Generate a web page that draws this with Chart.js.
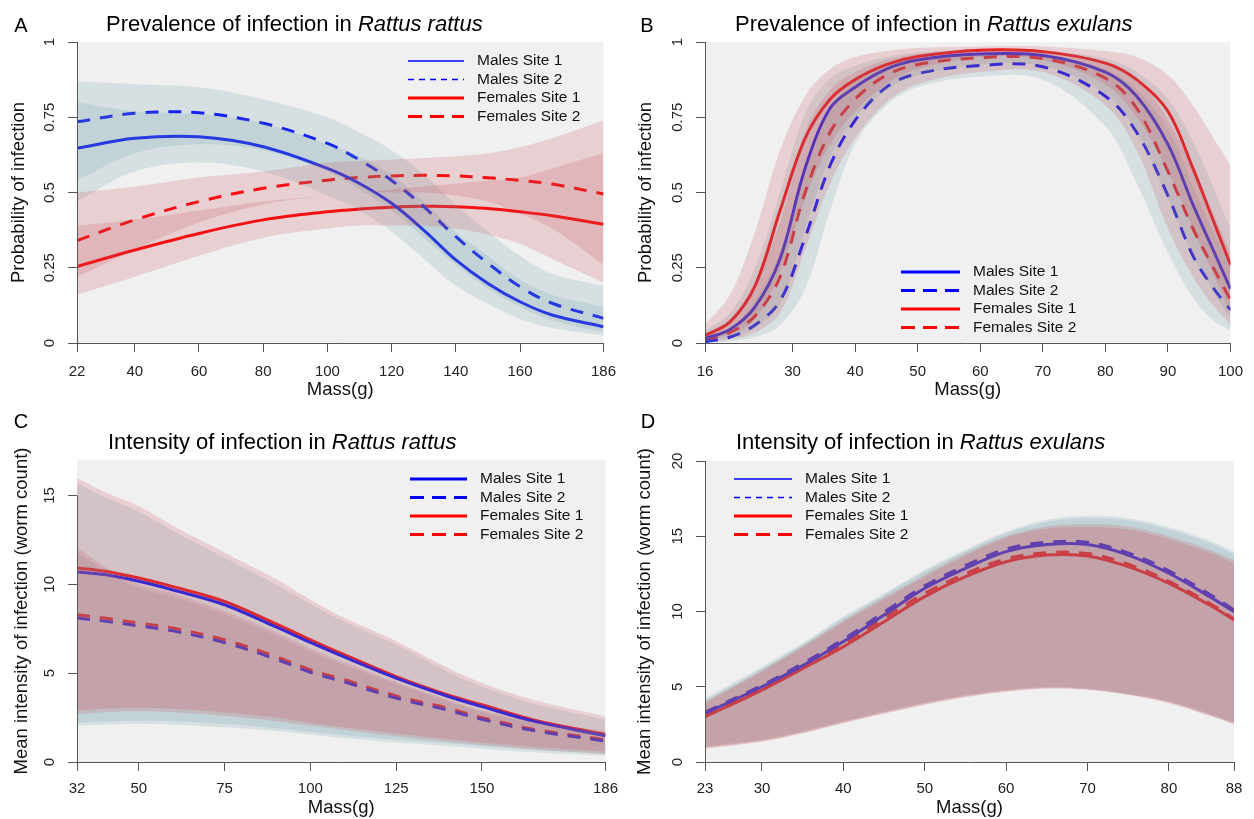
<!DOCTYPE html>
<html>
<head>
<meta charset="utf-8">
<script src="https://cdn.jsdelivr.net/npm/chart.js@4.4.0/dist/chart.umd.min.js"></script>
<style>
body { margin: 0; background: #fff; width: 1254px; height: 819px; position: relative; overflow: hidden; }
.panel { position: absolute; width: 627px; height: 410px; }
</style>
</head>
<body>
<div class="panel" style="left:0;top:0"><canvas id="chartA"></canvas></div>
<div class="panel" style="left:627px;top:0"><canvas id="chartB"></canvas></div>
<div class="panel" style="left:0;top:409px"><canvas id="chartC"></canvas></div>
<div class="panel" style="left:627px;top:409px"><canvas id="chartD"></canvas></div>
<script>
// ---- data ----
const seriesNames = ['Males Site 1', 'Males Site 2', 'Females Site 1', 'Females Site 2']

// A: prevalence, Rattus rattus
const massA = [22, 40, 60, 80, 100, 110, 120, 130, 140, 150, 160, 170, 186]
const xTicksA = [22, 40, 60, 80, 100, 120, 140, 160, 186]
const yTicksA = [0, 0.25, 0.5, 0.75, 1]
const mS1A = [0.647, 0.68, 0.685, 0.652, 0.58, 0.53, 0.464, 0.375, 0.276, 0.198, 0.137, 0.093, 0.054]
const mS1LoA = [0.47, 0.57, 0.60, 0.57, 0.49, 0.44, 0.37, 0.28, 0.19, 0.13, 0.08, 0.05, 0.025]
const mS1HiA = [0.80, 0.77, 0.76, 0.73, 0.66, 0.62, 0.56, 0.47, 0.37, 0.29, 0.21, 0.16, 0.12]
const mS2A = [0.735, 0.763, 0.765, 0.73, 0.663, 0.608, 0.54, 0.453, 0.353, 0.265, 0.187, 0.132, 0.082]
const mS2LoA = [0.54, 0.63, 0.66, 0.64, 0.57, 0.51, 0.44, 0.35, 0.26, 0.18, 0.12, 0.075, 0.035]
const mS2HiA = [0.87, 0.86, 0.85, 0.81, 0.75, 0.70, 0.64, 0.56, 0.46, 0.37, 0.29, 0.23, 0.19]
const fS1A = [0.254, 0.309, 0.364, 0.409, 0.436, 0.445, 0.451, 0.454, 0.453, 0.447, 0.436, 0.423, 0.395]
const fS1LoA = [0.16, 0.22, 0.29, 0.35, 0.38, 0.39, 0.39, 0.39, 0.38, 0.36, 0.33, 0.28, 0.20]
const fS1HiA = [0.39, 0.41, 0.44, 0.47, 0.49, 0.50, 0.51, 0.52, 0.53, 0.54, 0.55, 0.58, 0.63]
const fS2A = [0.34, 0.409, 0.47, 0.514, 0.541, 0.55, 0.555, 0.557, 0.555, 0.549, 0.54, 0.528, 0.495]
const fS2LoA = [0.22, 0.31, 0.40, 0.46, 0.49, 0.50, 0.50, 0.50, 0.49, 0.47, 0.43, 0.38, 0.26]
const fS2HiA = [0.50, 0.52, 0.55, 0.57, 0.60, 0.605, 0.61, 0.615, 0.62, 0.63, 0.65, 0.68, 0.74]

// B: prevalence, Rattus exulans
const massB = [16, 20, 24, 28, 32, 36, 40, 45, 50, 60, 70, 80, 85, 90, 94, 97, 100]
const xTicksB = [16, 30, 40, 50, 60, 70, 80, 90, 100]
const yTicksB = [0, 0.25, 0.5, 0.75, 1]
const mS1B = [0.015, 0.045, 0.12, 0.28, 0.58, 0.78, 0.85, 0.91, 0.94, 0.96, 0.955, 0.90, 0.82, 0.66, 0.46, 0.32, 0.18]
const mS1LoB = [0.005, 0.02, 0.05, 0.13, 0.38, 0.62, 0.75, 0.84, 0.89, 0.925, 0.92, 0.83, 0.70, 0.48, 0.29, 0.18, 0.08]
const mS1HiB = [0.04, 0.10, 0.25, 0.50, 0.76, 0.88, 0.92, 0.95, 0.965, 0.975, 0.972, 0.945, 0.90, 0.81, 0.67, 0.53, 0.38]
const mS2B = [0.005, 0.02, 0.06, 0.14, 0.35, 0.59, 0.74, 0.85, 0.895, 0.922, 0.918, 0.82, 0.70, 0.49, 0.29, 0.19, 0.11]
const mS2LoB = [0.001, 0.006, 0.02, 0.06, 0.18, 0.44, 0.66, 0.79, 0.85, 0.885, 0.875, 0.72, 0.53, 0.30, 0.15, 0.08, 0.04]
const mS2HiB = [0.015, 0.05, 0.14, 0.30, 0.57, 0.78, 0.87, 0.92, 0.945, 0.96, 0.955, 0.91, 0.84, 0.71, 0.52, 0.38, 0.26]
const fS1B = [0.025, 0.07, 0.19, 0.44, 0.68, 0.81, 0.875, 0.925, 0.952, 0.973, 0.968, 0.93, 0.875, 0.77, 0.58, 0.42, 0.26]
const fS1LoB = [0.01, 0.03, 0.08, 0.24, 0.48, 0.66, 0.77, 0.86, 0.91, 0.95, 0.94, 0.86, 0.75, 0.57, 0.38, 0.24, 0.10]
const fS1HiB = [0.06, 0.16, 0.37, 0.64, 0.82, 0.91, 0.95, 0.97, 0.98, 0.985, 0.985, 0.97, 0.95, 0.89, 0.79, 0.69, 0.59]
const fS2B = [0.01, 0.035, 0.09, 0.22, 0.50, 0.70, 0.81, 0.89, 0.925, 0.948, 0.945, 0.88, 0.78, 0.57, 0.38, 0.26, 0.143]
const fS2LoB = [0.003, 0.012, 0.035, 0.10, 0.31, 0.53, 0.68, 0.80, 0.86, 0.90, 0.90, 0.79, 0.64, 0.38, 0.22, 0.13, 0.06]
const fS2HiB = [0.03, 0.08, 0.20, 0.40, 0.70, 0.84, 0.90, 0.94, 0.96, 0.97, 0.968, 0.935, 0.88, 0.74, 0.58, 0.44, 0.30]

// C: intensity, Rattus rattus
const massC = [32, 40, 50, 60, 75, 90, 100, 110, 125, 140, 150, 165, 186]
const xTicksC = [32, 50, 75, 100, 125, 150, 186]
const yTicksC = [0, 5, 10, 15]
const mS1C = [10.7, 10.55, 10.17, 9.68, 8.85, 7.6, 6.73, 5.9, 4.72, 3.7, 3.12, 2.3, 1.48]
const mS1LoC = [2.2, 2.28, 2.32, 2.3, 2.15, 1.9, 1.7, 1.5, 1.25, 1.05, 0.9, 0.7, 0.45]
const mS1HiC = [15.7, 14.9, 14.1, 13.0, 11.5, 10.0, 8.9, 7.9, 6.6, 5.1, 4.25, 3.3, 2.4]
const mS2C = [8.1, 7.93, 7.66, 7.38, 6.72, 5.79, 5.05, 4.5, 3.6, 2.92, 2.4, 1.77, 1.18]
const mS2LoC = [2.05, 2.1, 2.15, 2.1, 1.95, 1.75, 1.55, 1.35, 1.1, 0.9, 0.75, 0.55, 0.35]
const mS2HiC = [11.8, 10.8, 9.8, 9.3, 8.3, 7.1, 6.2, 5.45, 4.4, 3.4, 2.8, 2.2, 1.65]
const fS1C = [10.92, 10.74, 10.36, 9.87, 9.04, 7.77, 6.88, 6.03, 4.81, 3.78, 3.22, 2.37, 1.55]
const fS1LoC = [2.9, 3.0, 3.05, 3.0, 2.8, 2.5, 2.2, 1.95, 1.6, 1.3, 1.1, 0.85, 0.6]
const fS1HiC = [16.0, 15.2, 14.4, 13.3, 11.8, 10.3, 9.14, 8.1, 6.8, 5.3, 4.45, 3.5, 2.56]
const fS2C = [8.29, 8.1, 7.82, 7.54, 6.88, 5.94, 5.19, 4.63, 3.72, 3.03, 2.5, 1.85, 1.25]
const fS2LoC = [2.7, 2.8, 2.85, 2.8, 2.6, 2.3, 2.05, 1.8, 1.45, 1.15, 0.95, 0.7, 0.45]
const fS2HiC = [12.1, 11.0, 10.0, 9.5, 8.5, 7.3, 6.4, 5.6, 4.5, 3.5, 2.9, 2.3, 1.75]

// D: intensity, Rattus exulans
const massD = [23, 30, 35, 40, 45, 50, 55, 60, 65, 70, 75, 80, 85, 88]
const xTicksD = [23, 30, 40, 50, 60, 70, 80, 88]
const yTicksD = [0, 5, 10, 15, 20]
const mS1D = [3.23, 5.0, 6.4, 8.0, 9.77, 11.54, 12.87, 13.98, 14.45, 14.45, 13.75, 12.54, 10.99, 9.99]
const mS1LoD = [1.0, 1.45, 2.0, 2.67, 3.3, 3.9, 4.4, 4.75, 4.95, 4.85, 4.5, 4.0, 3.15, 2.6]
const mS1HiD = [4.23, 6.33, 7.9, 9.66, 11.2, 12.76, 14.1, 15.3, 16.1, 16.35, 16.2, 15.6, 14.7, 13.98]
const mS2D = [3.3, 5.1, 6.55, 8.15, 9.95, 11.7, 13.05, 14.15, 14.6, 14.6, 13.9, 12.7, 11.15, 10.1]
const mS2LoD = [1.05, 1.5, 2.05, 2.7, 3.35, 3.95, 4.45, 4.8, 5.0, 4.9, 4.55, 4.05, 3.2, 2.65]
const mS2HiD = [4.1, 6.2, 7.8, 9.55, 11.1, 12.65, 14.0, 15.2, 15.95, 16.2, 16.05, 15.45, 14.55, 13.8]
const fS1D = [3.0, 4.78, 6.2, 7.66, 9.32, 10.99, 12.31, 13.31, 13.75, 13.69, 12.98, 11.87, 10.43, 9.44]
const fS1LoD = [0.9, 1.35, 1.9, 2.57, 3.2, 3.79, 4.3, 4.67, 4.88, 4.8, 4.45, 3.9, 3.05, 2.5]
const fS1HiD = [3.9, 6.0, 7.6, 9.3, 10.8, 12.3, 13.7, 14.9, 15.5, 15.6, 15.45, 14.8, 13.9, 13.2]
const fS2D = [3.05, 4.9, 6.35, 7.85, 9.55, 11.2, 12.5, 13.5, 13.9, 13.85, 13.15, 12.0, 10.55, 9.5]
const fS2LoD = [0.95, 1.4, 1.95, 2.6, 3.25, 3.85, 4.35, 4.7, 4.9, 4.82, 4.48, 3.95, 3.1, 2.55]
const fS2HiD = [4.0, 6.1, 7.7, 9.4, 10.95, 12.45, 13.85, 15.0, 15.65, 15.8, 15.65, 15.0, 14.1, 13.4]

// ---- styling ----
Chart.defaults.font.family = "'Liberation Sans', Arial, sans-serif"
Chart.defaults.color = '#222'

const lineColors = ['#0000ff', '#0000ff', '#ff0000', '#ff0000']
const bandColors = ['rgba(110, 160, 170, 0.2)', 'rgba(110, 160, 170, 0.2)', 'rgba(200, 80, 90, 0.2)', 'rgba(200, 80, 90, 0.2)']
const lineDashes = [[], [13, 10], [], [13, 10]]
const FONT = "'Liberation Sans', Arial, sans-serif"
const CURVE = 0.35

function pts(xs, ys) {
    return xs.map((x, i) => ({x: x, y: ys[i]}))
}

// draws background, axis lines, rotated y labels, panel letter, title and legend
function decoPlugin(p) {
    return {
        id: 'deco',
        beforeDraw(chart) {
            const {ctx, chartArea: a} = chart
            ctx.save()
            ctx.fillStyle = '#f0f0f0'
            ctx.fillRect(a.left, a.top, a.right - a.left, a.bottom - a.top)
            ctx.restore()
        },
        afterDraw(chart) {
            const {ctx, chartArea: a} = chart
            const xs = chart.scales.x, ys = chart.scales.y
            ctx.save()
            // axis lines span first..last tick, like base R
            ctx.strokeStyle = '#555'
            ctx.lineWidth = 1
            ctx.beginPath()
            const yb = Math.round(a.bottom) + 0.5
            ctx.moveTo(xs.getPixelForValue(p.xTicks[0]), yb)
            ctx.lineTo(xs.getPixelForValue(p.xTicks[p.xTicks.length - 1]), yb)
            const xl = Math.round(a.left) + 0.5
            ctx.moveTo(xl, ys.getPixelForValue(p.yTicks[0]))
            ctx.lineTo(xl, ys.getPixelForValue(p.yTicks[p.yTicks.length - 1]))
            ctx.stroke()

            // y tick labels, parallel to the axis
            ctx.fillStyle = '#222'
            ctx.font = '15px ' + FONT
            ctx.textAlign = 'center'
            ctx.textBaseline = 'middle'
            p.yTicks.forEach(v => {
                ctx.save()
                ctx.translate(a.left - 27, ys.getPixelForValue(v))
                ctx.rotate(-Math.PI / 2)
                ctx.fillText(String(v), 0, 0)
                ctx.restore()
            })

            // panel letter
            ctx.fillStyle = '#000'
            ctx.font = '20px ' + FONT
            ctx.textAlign = 'center'
            ctx.textBaseline = 'alphabetic'
            ctx.fillText(p.letter, p.letterX, p.letterY)

            // title with italic species name
            ctx.textAlign = 'left'
            ctx.font = '22px ' + FONT
            ctx.fillText(p.title[0], p.titleX, p.titleY)
            const w = ctx.measureText(p.title[0]).width
            ctx.font = 'italic 22px ' + FONT
            ctx.fillText(p.title[1], p.titleX + w, p.titleY)

            // legend
            ctx.font = '15.5px ' + FONT
            ctx.textBaseline = 'middle'
            seriesNames.forEach((name, i) => {
                const y = p.legY + i * 18.5
                ctx.strokeStyle = lineColors[i]
                ctx.lineWidth = p.legWidths[i]
                ctx.setLineDash(p.legDashes[i])
                ctx.beginPath()
                ctx.moveTo(p.legX, y)
                ctx.lineTo(p.legX + p.legLen, y)
                ctx.stroke()
                ctx.setLineDash([])
                ctx.fillStyle = '#111'
                ctx.fillText(name, p.legX + p.legLen + 13, y)
            })
            ctx.restore()
        }
    }
}

function makePanel(p) {
    const datasets = []
    // confidence bands: upper edge, then lower edge filled to it
    p.highs.forEach((hi, g) => {
        const order = g < 2 ? 1 : 0
        datasets.push({data: pts(p.mass, hi), borderWidth: 0, pointRadius: 0, fill: false, order: order,
            tension: CURVE})
        datasets.push({data: pts(p.mass, p.lows[g]), borderWidth: 0, pointRadius: 0, fill: '-1',
            backgroundColor: bandColors[g], order: order, tension: CURVE})
    })
    // fitted curves, drawn beneath the bands
    p.means.forEach((m, g) => {
        datasets.push({label: seriesNames[g], data: pts(p.mass, m), borderColor: lineColors[g], borderWidth: 3,
            borderDash: lineDashes[g], pointRadius: 0, fill: false, order: 2, tension: CURVE})
    })

    return new Chart(document.getElementById(p.id), {
        type: 'line',
        data: {datasets: datasets},
        options: {
            responsive: true,
            maintainAspectRatio: false,
            animation: false,
            events: [],
            layout: {padding: {top: p.padTop, right: 20, left: 0, bottom: 0}},
            plugins: {legend: {display: false}, tooltip: {enabled: false}},
            scales: {
                x: {
                    type: 'linear',
                    min: p.xTicks[0],
                    max: p.xTicks[p.xTicks.length - 1],
                    afterBuildTicks: s => { s.ticks = p.xTicks.map(v => ({value: v})) },
                    afterFit: s => { s.height = p.xHeight },
                    ticks: {autoSkip: false, maxRotation: 0, minRotation: 0, padding: p.xTickPad,
                        font: {size: 15}, color: '#222', callback: v => String(v)},
                    grid: {display: true, drawOnChartArea: false, drawTicks: true, tickLength: 9, color: '#555'},
                    border: {display: false},
                    title: {display: true, text: 'Mass(g)', font: {size: 18.5}, color: '#111',
                        padding: {top: 0, bottom: p.xTitlePad}}
                },
                y: {
                    type: 'linear',
                    min: 0,
                    max: p.yMax,
                    afterBuildTicks: s => { s.ticks = p.yTicks.map(v => ({value: v})) },
                    afterFit: s => { s.width = p.yWidth },
                    ticks: {display: false},
                    grid: {display: true, drawOnChartArea: false, drawTicks: true, tickLength: 9, color: '#555'},
                    border: {display: false},
                    title: {display: true, text: p.yTitle, font: {size: 18.5}, color: '#111',
                        padding: {top: p.yTitlePad, bottom: 0}}
                }
            }
        },
        plugins: [decoPlugin(p)]
    })
}

makePanel({
    id: 'chartA', letter: 'A', letterX: 21, letterY: 32,
    title: ['Prevalence of infection in ', 'Rattus rattus'], titleX: 106, titleY: 31,
    mass: massA, xTicks: xTicksA, yTicks: yTicksA, yMax: 1, yTitle: 'Probability of infection',
    means: [mS1A, mS2A, fS1A, fS2A], lows: [mS1LoA, mS2LoA, fS1LoA, fS2LoA], highs: [mS1HiA, mS2HiA, fS1HiA, fS2HiA],
    padTop: 42, yWidth: 77, xHeight: 67, xTickPad: 11, xTitlePad: 9, yTitlePad: 8,
    legX: 408, legY: 61, legLen: 56, legWidths: [1.5, 1.5, 3, 3], legDashes: [[], [6, 5], [], [14, 8]]
})

makePanel({
    id: 'chartB', letter: 'B', letterX: 20, letterY: 32,
    title: ['Prevalence of infection in ', 'Rattus exulans'], titleX: 108, titleY: 31,
    mass: massB, xTicks: xTicksB, yTicks: yTicksB, yMax: 1, yTitle: 'Probability of infection',
    means: [mS1B, mS2B, fS1B, fS2B], lows: [mS1LoB, mS2LoB, fS1LoB, fS2LoB], highs: [mS1HiB, mS2HiB, fS1HiB, fS2HiB],
    padTop: 42, yWidth: 78, xHeight: 67, xTickPad: 11, xTitlePad: 9, yTitlePad: 8,
    legX: 274, legY: 272, legLen: 59, legWidths: [3, 3, 3, 3], legDashes: [[], [14, 8], [], [14, 8]]
})

makePanel({
    id: 'chartC', letter: 'C', letterX: 21, letterY: 19,
    title: ['Intensity of infection in ', 'Rattus rattus'], titleX: 108, titleY: 40,
    mass: massC, xTicks: xTicksC, yTicks: yTicksC, yMax: 17, yTitle: 'Mean intensity of infection (worm count)',
    means: [mS1C, mS2C, fS1C, fS2C], lows: [mS1LoC, mS2LoC, fS1LoC, fS2LoC], highs: [mS1HiC, mS2HiC, fS1HiC, fS2HiC],
    padTop: 51, yWidth: 77, xHeight: 57, xTickPad: 9, xTitlePad: 0, yTitlePad: 11,
    legX: 410, legY: 70, legLen: 57, legWidths: [3, 3, 3, 3], legDashes: [[], [14, 8], [], [14, 8]]
})

makePanel({
    id: 'chartD', letter: 'D', letterX: 21, letterY: 19,
    title: ['Intensity of infection in ', 'Rattus exulans'], titleX: 109, titleY: 40,
    mass: massD, xTicks: xTicksD, yTicks: yTicksD, yMax: 20, yTitle: 'Mean intensity of infection (worm count)',
    means: [mS1D, mS2D, fS1D, fS2D], lows: [mS1LoD, mS2LoD, fS1LoD, fS2LoD], highs: [mS1HiD, mS2HiD, fS1HiD, fS2HiD],
    padTop: 52, yWidth: 78, xHeight: 57, xTickPad: 9, xTitlePad: 0, yTitlePad: 7,
    legX: 107, legY: 70, legLen: 58, legWidths: [1.5, 1.5, 3, 3], legDashes: [[], [6, 5], [], [14, 8]]
})
</script>
</body>
</html>
